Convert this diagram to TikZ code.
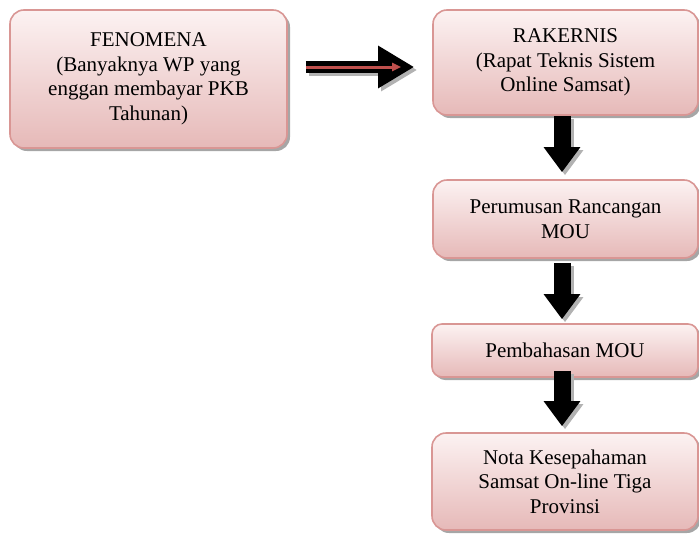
\documentclass[tikz,border=0pt]{standalone}
\usepackage{fontspec}
\setmainfont{Liberation Serif}
\usetikzlibrary{shadows,arrows.meta}
\definecolor{boxline}{HTML}{D99694}
\definecolor{boxtop}{HTML}{FCF2F2}
\definecolor{boxbot}{HTML}{E6B9B8}
\definecolor{redline}{HTML}{C0504D}
\tikzset{
  pbox/.style={draw=boxline, line width=1.6pt, rounded corners=14pt,
    top color=boxtop, bottom color=boxbot, align=center, inner sep=0pt,
    font=\fontsize{21}{24.5}\selectfont,
    drop shadow={shadow xshift=3pt, shadow yshift=-3pt, fill=black, opacity=0.35}},
  downarr/.style={line width=17pt, -{Triangle[width=35pt,length=25pt]}},
  rightarr/.style={line width=12pt, -{Triangle[width=40pt,length=36pt]}},
  shadowed/.style={black!30, transform canvas={xshift=3pt,yshift=-3pt}}
}
\begin{document}
\begin{tikzpicture}[x=1pt,y=-1pt]
\useasboundingbox (0,0) rectangle (699,536);
\node[pbox, minimum width=277pt, minimum height=138pt] (fen) at (148.5,79)
  {FENOMENA\\(Banyaknya WP yang\\enggan membayar PKB\\Tahunan)};
\node[pbox, minimum width=265pt, minimum height=105pt] (rak) at (565.5,62.5)
  {RAKERNIS\\(Rapat Teknis Sistem\\Online Samsat)};
\node[pbox, minimum width=265pt, minimum height=78pt] (per) at (565.5,219)
  {Perumusan Rancangan\\MOU};
\node[pbox, rounded corners=10pt, minimum width=266pt, minimum height=53pt] (pem) at (565,350.5)
  {Pembahasan MOU};
\node[pbox, minimum width=266pt, minimum height=97pt] (nota) at (565,481.5)
  {Nota Kesepahaman\\Samsat On-line Tiga\\Provinsi};
% right arrow
\coordinate (ra1) at ([xshift=18pt, yshift=0pt]fen.east |- 0,67);
\coordinate (ra2) at ([xshift=-18pt]rak.west |- 0,67);
\draw[rightarr, shadowed] (ra1) -- (ra2);
\draw[rightarr, black] (ra1) -- (ra2);
\draw[redline, line width=3pt, -{Triangle[width=8pt,length=9pt]}, shorten >=13pt] (ra1) -- (ra2);
% down arrows
\coordinate (d1a) at ([xshift=-3.5pt]rak.south);
\coordinate (d1b) at ([xshift=-3.5pt, yshift=7pt]per.north);
\coordinate (d2a) at ([xshift=-3.5pt, yshift=-4pt]per.south);
\coordinate (d2b) at ([xshift=-3pt, yshift=4pt]pem.north);
\coordinate (d3a) at ([xshift=-3pt, yshift=7pt]pem.south);
\coordinate (d3b) at ([xshift=-3pt, yshift=6pt]nota.north);
\foreach \a/\b in {d1a/d1b, d2a/d2b, d3a/d3b}{
  \draw[downarr, shadowed] (\a) -- (\b);
  \draw[downarr, black] (\a) -- (\b);
}
\end{tikzpicture}
\end{document}
